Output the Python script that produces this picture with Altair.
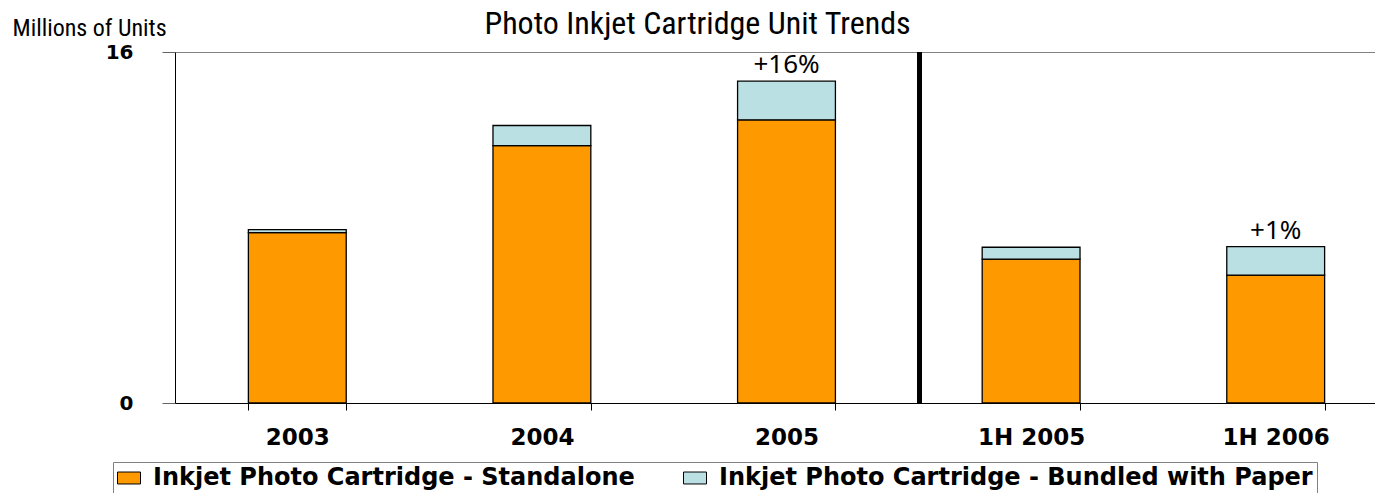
import altair as alt
import pandas as pd

categories = ["2003", "2004", "2005", "1H 2005", "1H 2006"]
standalone = [7.77, 11.73, 12.91, 6.56, 5.83]
bundled = [0.13, 0.92, 1.76, 0.54, 1.30]
growth_labels = ["", "", "+16%", "", "+1%"]
series_names = ["Inkjet Photo Cartridge - Standalone",
                "Inkjet Photo Cartridge - Bundled with Paper"]
series_colors = ["#FF9900", "#BBE0E3"]
y_ticks = [0, 16]
chart_title = "Photo Inkjet Cartridge Unit Trends"

rows = []
for i, c in enumerate(categories):
    rows.append({"cat": c, "series": series_names[0], "idx": 0, "value": standalone[i]})
    rows.append({"cat": c, "series": series_names[1], "idx": 1, "value": bundled[i]})
long_df = pd.DataFrame(rows)

tot_df = pd.DataFrame({
    "cat": categories,
    "total": [a + b for a, b in zip(standalone, bundled)],
    "label": growth_labels,
})
div_df = pd.DataFrame({"cat": ["2005"]})

narrow = "Liberation Sans Narrow, Arial Narrow, Roboto Condensed, DejaVu Sans Condensed, sans-serif"

x_scale = alt.Scale(paddingInner=0.6, paddingOuter=0.3, range=[0, 1223])
y_scale = alt.Scale(domain=[0, 16], nice=False)

x_enc = alt.X(
    "cat:N", sort=categories, title=None, scale=x_scale,
    axis=alt.Axis(
        labelAngle=0, labelFont="DejaVu Sans", labelFontWeight="bold",
        labelFontSize=23, labelColor="black", labelBaseline="alphabetic",
        labelPadding=34, tickSize=7, tickColor="black", tickBand="extent",
        domainColor="black", domainWidth=1, grid=False,
    ),
)

bars = alt.Chart(long_df).mark_bar(stroke="black", strokeWidth=1.3).encode(
    x=x_enc,
    y=alt.Y(
        "value:Q", stack="zero", scale=y_scale,
        title="Millions of Units",
        axis=alt.Axis(
            values=y_ticks, labelFont="DejaVu Sans", labelFontWeight="bold",
            labelFontSize=20, labelColor="black", labelPadding=29, tickSize=13,
            tickColor="#666666", domainColor="black", domainWidth=1,
            grid=True, gridColor="#808080", gridWidth=1.2,
            titleAngle=0, titleAlign="left", titleBaseline="alphabetic",
            titleX=-163, titleY=-17, titleFont=narrow, titleFontSize=24,
            titleFontWeight="normal", titleColor="black",
        ),
    ),
    color=alt.Color(
        "series:N",
        scale=alt.Scale(domain=series_names, range=series_colors),
        legend=alt.Legend(
            title=None, orient="none", legendX=-62, legendY=410,
            direction="horizontal", fillColor="white", strokeColor="#808080",
            padding=4, symbolType="M-1,-0.52L1,-0.52L1,0.52L-1,0.52Z",
            symbolSize=529, symbolStrokeColor="black", symbolStrokeWidth=1,
            symbolOpacity=1, labelFont="DejaVu Sans", labelFontWeight="bold",
            labelFontSize=24, labelColor="black", labelOffset=12,
            columnPadding=46, labelLimit=1000,
        ),
    ),
    order=alt.Order("idx:Q"),
)

texts = alt.Chart(tot_df).mark_text(
    font="Noto Sans", fontSize=26, color="black", baseline="alphabetic", dy=-8
).encode(
    x=alt.X("cat:N", sort=categories, scale=x_scale),
    y=alt.Y(
        "total:Q", scale=y_scale, title=chart_title,
        axis=alt.Axis(
            orient="right", labels=False, ticks=False, domain=False, grid=False,
            titleAngle=0, titleAlign="center", titleBaseline="alphabetic",
            titleX=-678, titleY=-19, titleFont=narrow, titleFontSize=32,
            titleFontWeight="normal", titleColor="black",
        ),
    ),
    text="label:N",
)

divider = alt.Chart(div_df).mark_rule(color="black", strokeWidth=5, xOffset=133).encode(
    x=alt.X("cat:N", sort=categories, scale=x_scale),
)

chart = alt.layer(bars, texts, divider).resolve_axis(y="independent").properties(
    width=1200, height=351,
    padding={"left": 167, "top": 44, "right": 0, "bottom": 90},
    autosize=alt.AutoSizeParams(type="none"),
).configure_view(stroke=None)

chart.save("out.html", embed_options={"renderer": "svg", "actions": False})
